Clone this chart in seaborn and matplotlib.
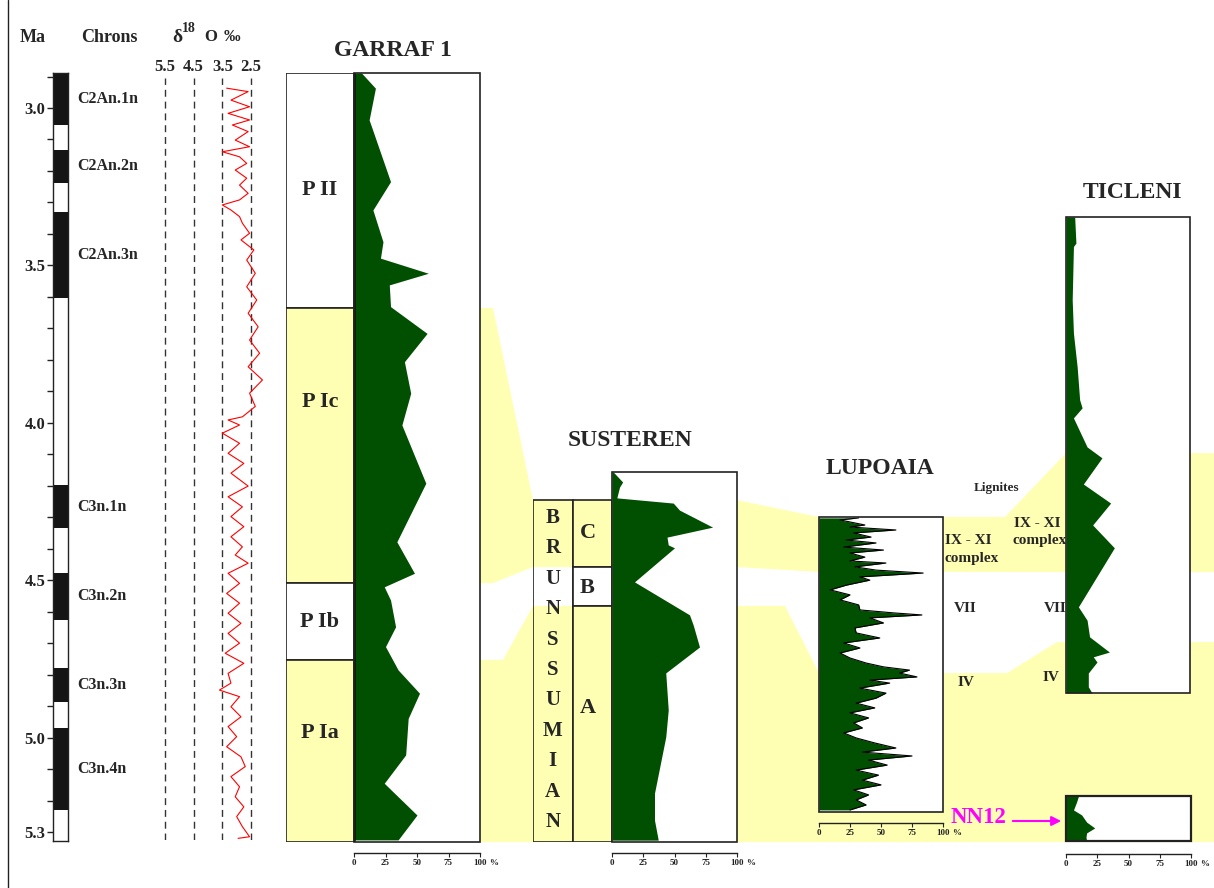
import numpy as np
import matplotlib
matplotlib.use("Agg")
import matplotlib.pyplot as plt
from matplotlib.patches import Rectangle, Polygon
from matplotlib.ticker import FixedLocator, MultipleLocator
import seaborn as sns

sns.set_theme(style="white")
plt.rcParams["font.family"] = ["Liberation Serif", "DejaVu Serif"]
plt.rcParams["font.weight"] = "bold"

# ---------------- values ----------------
ma_labels = [3.0, 3.5, 4.0, 4.5, 5.0, 5.3]

chron_names = ["C2An.1n", "C2An.2n", "C2An.3n", "C3n.1n", "C3n.2n", "C3n.3n", "C3n.4n"]
chron_top = [2.889, 3.133, 3.330, 4.198, 4.477, 4.779, 4.970]
chron_base = [3.054, 3.238, 3.604, 4.334, 4.626, 4.887, 5.230]

# benthic d18O (permil) against age (Ma)
d18o_ticks = [5.5, 4.5, 3.5, 2.5]
d18o_age = [2.937, 2.948, 2.975, 2.996, 3.017, 3.038, 3.054, 3.075, 3.102, 3.123,
            3.139, 3.155, 3.176, 3.197, 3.223, 3.245, 3.271, 3.292, 3.308, 3.324,
            3.345, 3.366, 3.398, 3.419, 3.451, 3.483, 3.525, 3.568, 3.610, 3.652,
            3.695, 3.737, 3.779, 3.822, 3.864, 3.906, 3.948, 3.981,
            3.991, 4.007, 4.033, 4.065, 4.097, 4.129, 4.160, 4.201, 4.235, 4.267,
            4.298, 4.330, 4.362, 4.394, 4.420, 4.446, 4.478, 4.510, 4.542, 4.573,
            4.605, 4.637, 4.669, 4.700, 4.732, 4.764, 4.796, 4.827, 4.849, 4.870,
            4.902, 4.934, 4.965, 4.997, 5.029, 5.061, 5.092, 5.124, 5.156, 5.188,
            5.220, 5.251, 5.283, 5.315, 5.320]
d18o_val = [3.35, 2.6, 3.2, 2.55, 3.3, 2.55, 3.15, 2.6, 3.05, 2.55,
            3.5, 2.9, 2.65, 3.05, 2.65, 2.9, 2.6, 2.9, 3.5, 3.2,
            2.9, 2.8, 2.55, 2.85, 2.4, 2.65, 2.35, 2.65, 2.3, 2.6,
            2.25, 2.55, 2.2, 2.6, 2.1, 2.55, 2.35, 2.8,
            3.3, 2.9, 3.5, 2.9, 3.3, 2.75, 3.2, 2.6, 3.3, 2.8,
            3.2, 2.75, 3.2, 2.8, 3.05, 2.6, 3.3, 2.9, 3.35, 2.9,
            3.3, 2.85, 3.3, 2.9, 3.4, 2.75, 3.3, 3.2, 3.6, 2.9,
            3.2, 2.85, 3.3, 3.0, 3.35, 2.85, 2.7, 3.2, 2.9, 3.05,
            2.75, 3.0, 2.8, 2.55, 2.95]

# Garraf 1 (age, %)
garraf_age = [2.889, 2.937, 3.038, 3.049, 3.234, 3.324, 3.425, 3.477, 3.525, 3.562,
              3.631, 3.716, 3.806, 3.906, 4.007, 4.192, 4.378, 4.478, 4.521, 4.563,
              4.648, 4.711, 4.785, 4.859, 4.939, 5.055, 5.145, 5.246, 5.325]
garraf_pct = [6, 17, 12, 13, 29, 15, 23, 21, 59, 28,
              29, 58, 40, 45, 38, 57, 34, 48, 24, 29,
              33, 25, 35, 52, 43, 41, 24, 50, 35]
garraf_zones = ["P II", "P Ic", "P Ib", "P Ia"]
garraf_zone_top = [2.889, 3.635, 4.509, 4.753]
garraf_zone_base = [3.635, 4.509, 4.753, 5.332]
warm_zones = ["P Ic", "P Ia", "C", "A"]

# Susteren (position in log, % of log height ; %)
susteren_depth = [0.0, 2.7, 4.1, 6.8, 7.0, 8.4, 10.3, 14.9, 17.6, 19.7, 20.5,
                  29.7, 38.6, 41.4, 47.3, 54.3, 64.3, 71.6, 86.8, 94.1, 99.5]
susteren_pct = [1, 8.5, 6, 4, 4, 49, 54, 80.5, 44, 45, 50,
                18, 62, 65, 70, 43, 45, 43, 34, 34, 37]
susteren_zones = ["C", "B", "A"]
susteren_zone_top = [7.6, 25.7, 36.2]
susteren_zone_base = [25.7, 36.2, 100.0]
susteren_stage = "BRUNSSUMIAN"

# Lupoaia
lupoaia_depth = [0.3, 1.0, 2.7, 3.4, 4.4, 5.4, 6.8, 7.8, 8.8, 10.2,
                 11.2, 12.2, 13.6, 14.9, 15.6, 16.9, 18.0, 19.0, 20.3, 21.4,
                 23.1, 24.7, 26.4, 28.1, 29.8, 31.5, 32.5, 33.2, 34.2, 35.9,
                 37.6, 39.3, 41.0, 42.7, 44.4, 46.1, 47.8, 49.5, 50.8, 51.9,
                 52.9, 54.2, 55.3, 56.3, 58.0, 59.7, 61.4, 63.1, 64.7, 66.4,
                 68.1, 69.8, 71.5, 73.2, 74.9, 76.6, 78.3, 79.7, 81.0, 82.4,
                 84.1, 85.8, 87.5, 89.2, 90.8, 92.5, 94.2, 95.9, 97.6, 99.3]
lupoaia_pct = [32, 17, 37, 25, 62, 28, 42, 22, 46, 20,
               52, 25, 37, 25, 54, 29, 46, 84, 33, 41,
               22, 9, 25, 17, 32, 33, 60, 83, 41, 52,
               29, 30, 49, 20, 33, 17, 25, 38, 52, 73,
               65, 79, 41, 57, 33, 54, 46, 30, 45, 25,
               40, 28, 35, 20, 30, 45, 62, 35, 75, 40,
               55, 30, 48, 35, 50, 28, 40, 30, 38, 25]

# Ticleni main log and NN12 interval
ticleni_depth = [0, 5.5, 6.2, 17.4, 24.4, 31.5, 38.4, 40.1, 42.2, 48.3, 50.6, 56.1,
                 60.1, 64.7, 69.5, 81.9, 84.7, 88.2, 91.4, 92.4, 93.5, 95.8, 98.7, 100]
ticleni_pct = [7, 8, 6, 5, 6, 9, 11, 13, 6, 17, 29, 14,
               36, 21.5, 39, 10, 17, 19, 35, 22, 25, 18, 18, 21]
nn12_depth = [0, 13, 31, 42, 58, 71, 82, 91, 100]
nn12_pct = [10, 8.5, 6, 12.5, 16.5, 23, 16.5, 16, 16.5]

# correlated intervals (top, base) in each log's own vertical units:
# Garraf, Susteren, Lupoaia, Ticleni
upper_ties = [(3.635, 4.509), (7.6, 25.7), (0.0, 18.6), (49.6, 74.6)]
lower_ties = [(4.753, 5.332), (36.2, 100.0), (52.9, 100.0), (89.3, 100.0)]

pct_ticks = [0, 25, 50, 75, 100]

# ---------------- layout (pixels) ----------------
W, H = 1214, 888
PX_PER_MA, Y_3MA = 314.8, 108
GREEN, YELLOW, EDGE = "#014f01", "#ffffb4", "#222222"


def age_at(y):
    return 3.0 + (y - Y_3MA) / PX_PER_MA


fig = plt.figure(figsize=(W / 100, H / 100), dpi=100)


def add_ax(x0, y0, x1, y1):
    return fig.add_axes([x0 / W, 1 - y1 / H, (x1 - x0) / W, (y1 - y0) / H])


def to_px(ax, x, y):
    X, Y = ax.transData.transform((x, y))
    return (X, H - Y)


def bare(ax):
    for s in ax.spines.values():
        s.set_visible(False)
    ax.set_xticks([])
    ax.set_yticks([])
    ax.patch.set_alpha(0)


def pct_axis(ax, drop):
    for s in ["left", "right", "top"]:
        ax.spines[s].set_visible(False)
    sp = ax.spines["bottom"]
    sp.set_position(("outward", drop * 0.72))
    sp.set_bounds(0, 100)
    sp.set_color(EDGE)
    sp.set_linewidth(1)
    ax.set_xticks(pct_ticks)
    ax.set_xticklabels([str(v) for v in pct_ticks])
    ax.tick_params(axis="x", bottom=True, direction="out", length=3, width=0.8,
                   labelsize=6.5, pad=1.5, colors=EDGE)
    ax.set_yticks([])
    ax.annotate("%", xy=(1, 0), xycoords="axes fraction", xytext=(6.5, -drop * 0.72 - 4.2),
                textcoords="offset points", ha="left", va="top", fontsize=6.5)


def box(ax, lw=1.2):
    ax.add_patch(Rectangle((0, 0), 1, 1, transform=ax.transAxes, fill=False,
                           ec=EDGE, lw=lw, clip_on=False, zorder=5))


# background layer
bg = add_ax(0, 0, W, H)
bg.set_xlim(0, W)
bg.set_ylim(H, 0)
bg.axis("off")
bg.axvline(8, color=EDGE, lw=1)

# ---------------- magnetostratigraphy ----------------
ax_c = add_ax(53, 73, 68, 841)
ax_c.set_xlim(0, 1)
ax_c.set_ylim(age_at(841), age_at(73))
ax_c.bar(0.5, np.subtract(chron_base, chron_top), bottom=chron_top, width=1,
         color="#151515", edgecolor="none")
for s in ax_c.spines.values():
    s.set_visible(True)
    s.set_color(EDGE)
    s.set_linewidth(1)
ax_c.set_xticks([])
ax_c.yaxis.set_major_locator(FixedLocator(ma_labels))
ax_c.set_yticklabels([f"{v:.1f}" for v in ma_labels])
ax_c.yaxis.set_minor_locator(MultipleLocator(0.1))
ax_c.tick_params(axis="y", which="both", left=True, direction="out", length=4.5,
                 width=1, labelsize=12, pad=1, colors=EDGE)
for name, t, b in zip(chron_names, chron_top, chron_base):
    ax_c.text(1.6, (t + b) / 2, name, transform=ax_c.get_yaxis_transform(),
              ha="left", va="center", fontsize=11.5)

# ---------------- d18O ----------------
ppm = (251 - 165) / 3.0
ax_o = add_ax(150, 78, 265, 840)
ax_o.set_xlim(5.5 + (165 - 150) / ppm, 2.5 - (265 - 251) / ppm)
ax_o.set_ylim(age_at(840), age_at(78))
for v in d18o_ticks:
    ax_o.axvline(v, color="#333333", lw=1, ls=(0, (5, 3.5)))
ax_o.plot(d18o_val, d18o_age, color="#ff0000", lw=0.8)
for s in ax_o.spines.values():
    s.set_visible(False)
ax_o.patch.set_alpha(0)
ax_o.set_yticks([])
ax_o.xaxis.tick_top()
ax_o.set_xticks(d18o_ticks)
ax_o.set_xticklabels([f"{v:.1f}" for v in d18o_ticks])
ax_o.tick_params(axis="x", top=True, bottom=False, length=0, labelsize=12, pad=2)

# ---------------- Garraf 1 ----------------
ax_gz = add_ax(286, 73, 354, 842)
ax_g = add_ax(354, 73, 480, 842)
for ax in (ax_gz, ax_g):
    ax.set_ylim(age_at(842), age_at(73))
bare(ax_gz)
ax_gz.set_xlim(0, 1)
ax_gz.barh(np.add(garraf_zone_top, garraf_zone_base) / 2,
           1, height=np.subtract(garraf_zone_base, garraf_zone_top), left=0,
           color=[YELLOW if z in warm_zones else "white" for z in garraf_zones],
           edgecolor=EDGE, linewidth=1.2)
garraf_label_age = [3.262, 3.935, 4.632, 4.986]
for z, a in zip(garraf_zones, garraf_label_age):
    ax_gz.text(0.5, a, z, ha="center", va="center", fontsize=16)

ax_g.set_xlim(0, 100)
ax_g.fill_betweenx(garraf_age, 0, garraf_pct, color=GREEN, lw=0)
pct_axis(ax_g, 11)
box(ax_g)
ax_g.axvline(0, color="#111111", lw=1.8)

# ---------------- Susteren ----------------
ax_sz = add_ax(533, 472, 612, 842)
ax_s = add_ax(612, 472, 737, 842)
for ax in (ax_sz, ax_s):
    ax.set_ylim(100, 0)
bare(ax_sz)
ax_sz.set_xlim(0, 2)
ax_sz.barh((susteren_zone_top[0] + 100) / 2, 1, height=100 - susteren_zone_top[0], left=0,
           color="none", edgecolor=EDGE, linewidth=1.2)
ax_sz.barh(np.add(susteren_zone_top, susteren_zone_base) / 2, 1,
           height=np.subtract(susteren_zone_base, susteren_zone_top), left=1,
           color=[YELLOW if z in warm_zones else "white" for z in susteren_zones],
           edgecolor=EDGE, linewidth=1.2)
for ch, d in zip(susteren_stage, np.linspace(12.4, 94.6, len(susteren_stage))):
    ax_sz.text(0.5, d, ch, ha="center", va="center", fontsize=15)
for z, d in zip(susteren_zones, [16.6, 31.4, 63.8]):
    ax_sz.text(1.38, d, z, ha="center", va="center", fontsize=16)

ax_s.set_xlim(0, 100)
ax_s.fill_betweenx(susteren_depth, 0, susteren_pct, color=GREEN, lw=0)
pct_axis(ax_s, 11)
box(ax_s)

# ---------------- Lupoaia ----------------
ax_l = add_ax(819, 517, 943, 812)
ax_l.set_xlim(0, 100)
ax_l.set_ylim(100, 0)
ax_l.fill_betweenx(lupoaia_depth, 0, lupoaia_pct, color=GREEN, lw=0)
ax_l.plot(lupoaia_pct, lupoaia_depth, color="black", lw=0.8)
pct_axis(ax_l, 11)
box(ax_l)

# ---------------- Ticleni ----------------
ax_t = add_ax(1066, 217, 1190, 693)
ax_t.set_xlim(0, 100)
ax_t.set_ylim(100, 0)
ax_t.fill_betweenx(ticleni_depth, 0, ticleni_pct, color=GREEN, lw=0)
for s in ax_t.spines.values():
    s.set_visible(False)
ax_t.set_xticks([])
ax_t.set_yticks([])
box(ax_t)

ax_n = add_ax(1066, 796, 1191, 841)
ax_n.set_xlim(0, 100)
ax_n.set_ylim(100, 0)
ax_n.fill_betweenx(nn12_depth, 0, nn12_pct, color=GREEN, lw=0)
pct_axis(ax_n, 13)
box(ax_n, lw=1.6)

# ---------------- correlation bands ----------------
u, l = upper_ties, lower_ties
top1 = [to_px(ax_g, 100, u[0][0])]
top1.append((top1[-1][0] + 13, top1[-1][1]))
top1 += [to_px(ax_sz, 0, u[1][0]), to_px(ax_s, 100, u[1][0]),
         to_px(ax_l, 0, u[2][0]), to_px(ax_l, 100, u[2][0])]
top1.append((top1[-1][0] + 62, top1[-1][1]))
top1 += [to_px(ax_t, 0, u[3][0]), to_px(ax_t, 100, u[3][0])]
top1.append((W, top1[-1][1]))
bot1 = [to_px(ax_g, 100, u[0][1])]
bot1.append((bot1[-1][0] + 13, bot1[-1][1]))
bot1 += [to_px(ax_sz, 0, u[1][1]), to_px(ax_s, 100, u[1][1]),
         to_px(ax_l, 0, u[2][1]), to_px(ax_l, 100, u[2][1]),
         to_px(ax_t, 0, u[3][1]), to_px(ax_t, 100, u[3][1])]
bot1.append((W, bot1[-1][1]))
bg.add_patch(Polygon(top1 + bot1[::-1], closed=True, fc=YELLOW, ec="none"))

top2 = [to_px(ax_g, 100, l[0][0])]
top2.append((top2[-1][0] + 23, top2[-1][1]))
top2 += [to_px(ax_sz, 0, l[1][0]), to_px(ax_s, 100, l[1][0])]
top2.append((top2[-1][0] + 48, top2[-1][1]))
top2 += [to_px(ax_l, 0, l[2][0]), to_px(ax_l, 100, l[2][0])]
top2.append((top2[-1][0] + 64, top2[-1][1]))
tl = to_px(ax_t, 0, l[3][0])
top2 += [(tl[0] - 9, tl[1]), tl, to_px(ax_t, 100, l[3][0])]
top2.append((W, top2[-1][1]))
gb = to_px(ax_g, 100, l[0][1])
bg.add_patch(Polygon(top2 + [(W, gb[1]), gb], closed=True, fc=YELLOW, ec="none"))

# ---------------- headers and labels ----------------
bg.text(33, 38, "Ma", ha="center", va="center", fontsize=13)
bg.text(109, 38, "Chrons", ha="center", va="center", fontsize=13)
bg.text(177, 37, "δ", ha="center", va="center", fontsize=14)
bg.text(189, 28, "18", ha="center", va="center", fontsize=10)
bg.text(211, 37, "O", ha="center", va="center", fontsize=12)
bg.text(232, 37, "‰", ha="center", va="center", fontsize=12)

bg.text(393, 50, "GARRAF 1", ha="center", va="center", fontsize=17)
bg.text(630, 440, "SUSTEREN", ha="center", va="center", fontsize=17)
bg.text(880, 468, "LUPOAIA", ha="center", va="center", fontsize=17)
bg.text(1132, 192, "TICLENI", ha="center", va="center", fontsize=17)

bg.text(997, 488, "Lignites", ha="center", va="center", fontsize=9.5)
for x, y, s in [(968, 540, "IX - XI"), (972, 558, "complex"), (965, 608, "VII"),
                (966, 682, "IV"), (1037, 523, "IX - XI"), (1040, 540, "complex"),
                (1055, 608, "VII"), (1051, 677, "IV")]:
    bg.text(x, y, s, ha="center", va="center", fontsize=11)

bg.text(978, 817, "NN12", ha="center", va="center", fontsize=16.5, color="#ff00ff")
bg.annotate("", xy=(1064, 821), xytext=(1010, 821),
            arrowprops=dict(arrowstyle="-|>", color="#ff00ff", lw=1.5, mutation_scale=14))

fig.savefig("out.png", dpi=100)
